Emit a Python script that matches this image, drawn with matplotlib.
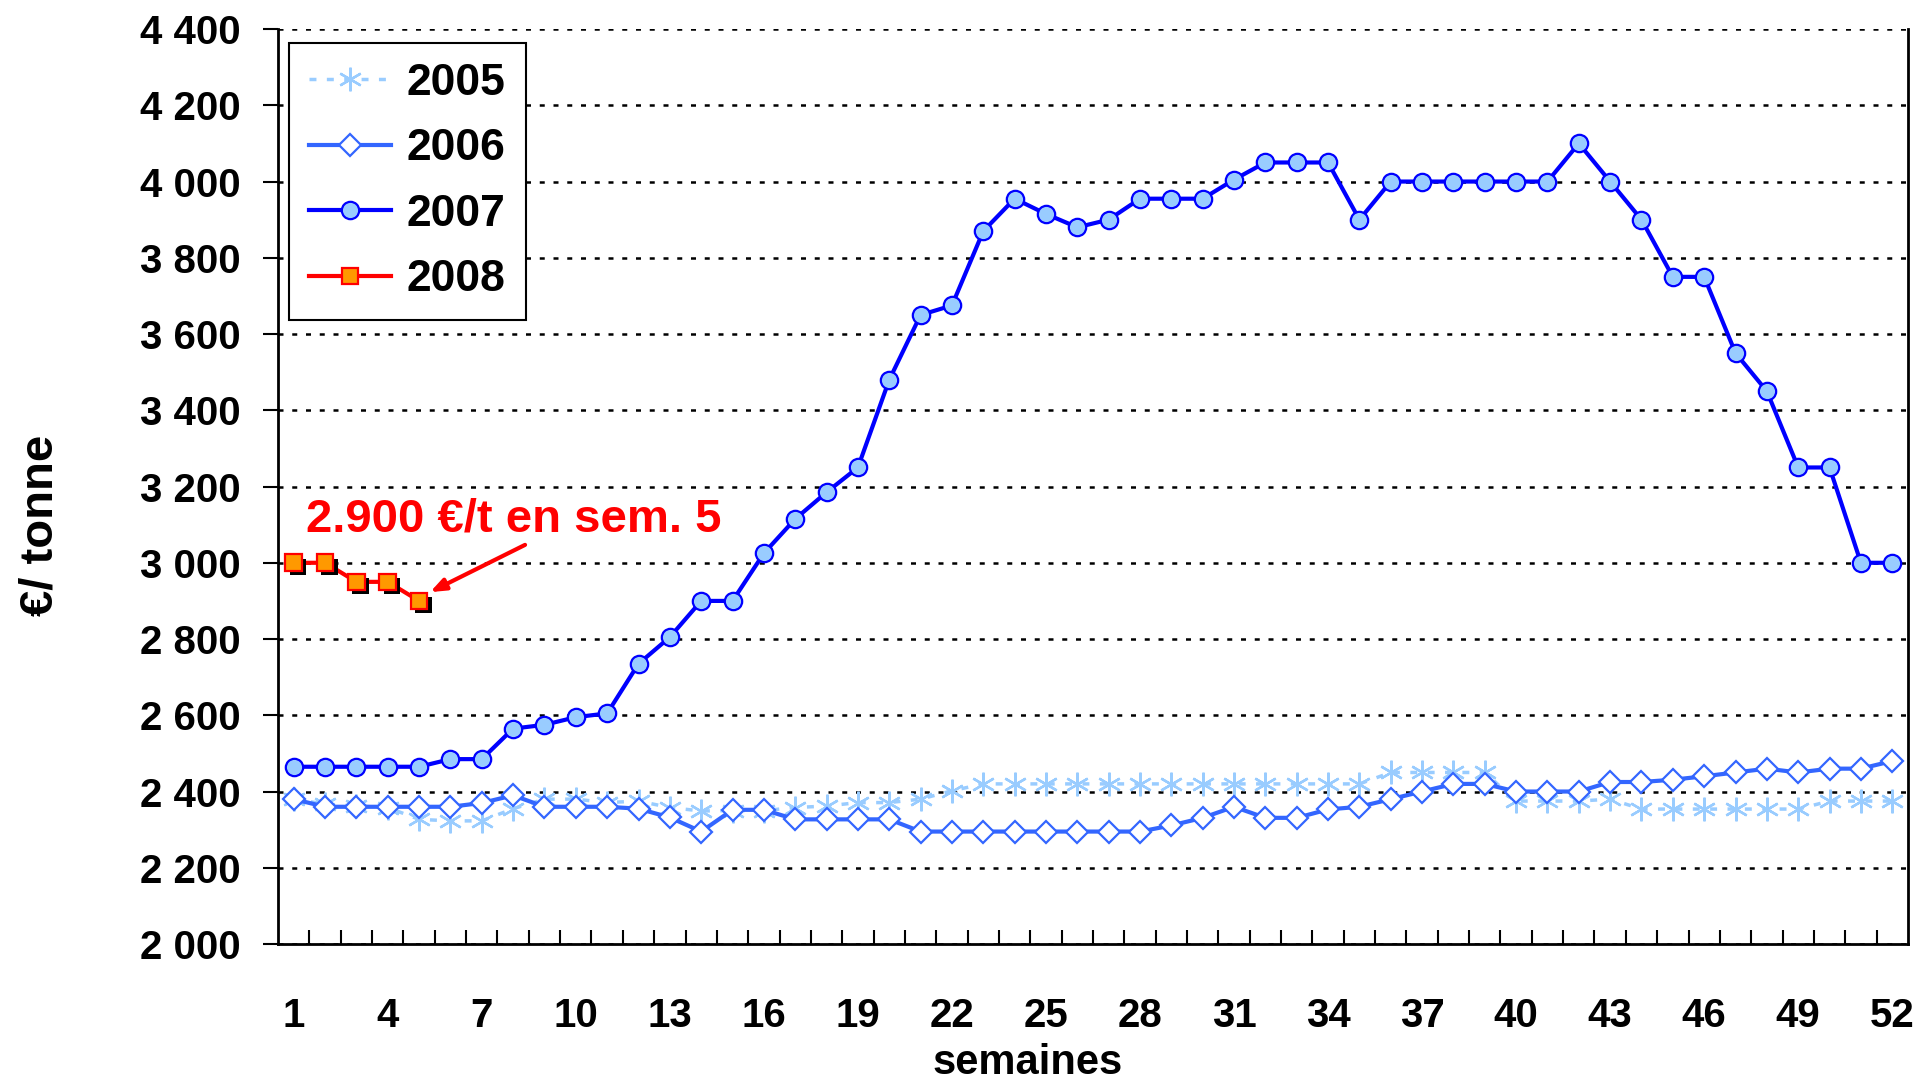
import matplotlib
matplotlib.use("Agg")
import matplotlib.pyplot as plt
import matplotlib.patheffects as pe
from matplotlib.ticker import FixedLocator, FixedFormatter

# ------------------------------------------------------------
# Data, EUR / tonne per week
# ------------------------------------------------------------
weeks = list(range(1, 53))

prix_2005 = [2380, 2367, 2362, 2358, 2327, 2323, 2323, 2355, 2380, 2380,
             2371, 2375, 2358, 2349, 2350, 2350, 2358, 2362, 2371, 2371,
             2380, 2402, 2420, 2420, 2420, 2420, 2420, 2420, 2420, 2420,
             2420, 2420, 2420, 2420, 2420, 2450, 2450, 2450, 2450, 2375,
             2375, 2375, 2380, 2354, 2354, 2354, 2354, 2354, 2354, 2375,
             2375, 2375]

prix_2006 = [2380, 2360, 2360, 2360, 2360, 2360, 2370, 2390, 2360, 2360,
             2360, 2355, 2332, 2295, 2352, 2352, 2327, 2327, 2327, 2327,
             2295, 2295, 2295, 2295, 2295, 2295, 2295, 2295, 2311, 2331,
             2360, 2331, 2331, 2353, 2360, 2380, 2400, 2420, 2420, 2400,
             2400, 2400, 2425, 2425, 2431, 2440, 2450, 2460, 2450, 2460,
             2460, 2480]

prix_2007 = [2465, 2465, 2465, 2465, 2465, 2485, 2485, 2565, 2575, 2595,
             2605, 2735, 2805, 2900, 2900, 3025, 3115, 3185, 3250, 3480,
             3650, 3675, 3870, 3955, 3915, 3880, 3900, 3955, 3955, 3955,
             4005, 4050, 4050, 4050, 3900, 4000, 4000, 4000, 4000, 4000,
             4000, 4100, 4000, 3900, 3750, 3750, 3550, 3450, 3250, 3250,
             3000, 3000]

weeks_2008 = [1, 2, 3, 4, 5]
prix_2008 = [3000, 3000, 2950, 2950, 2900]

y_ticks = list(range(2000, 4401, 200))
y_labels = [f"{v:,}".replace(",", " ") for v in y_ticks]
x_ticks = list(range(1, 53, 3))

FONT = "Liberation Sans"

plt.rcParams["font.family"] = [FONT, "DejaVu Sans"]
plt.rcParams["font.weight"] = "bold"

fig = plt.figure(figsize=(19.15, 10.8), dpi=100)
ax = fig.add_axes([0.1452, 0.1259, 0.8511, 0.8472])

# 2005: light blue dashed with asterisks
ax.plot(weeks, prix_2005, color="#99CCFF", lw=2.5, ls=(0, (2, 3)),
        marker=(6, 2, 0), ms=17, mew=1.7, mec="#99CCFF", label="2005",
        zorder=2)
# 2006: blue with open diamonds
ax.plot(weeks, prix_2006, color="#3366FF", lw=3, marker="D", ms=11,
        mfc="white", mec="#3366FF", mew=1.6, label="2006", zorder=3)
# 2007: dark blue with light blue circles
ax.plot(weeks, prix_2007, color="#0000FF", lw=3, marker="o", ms=12.5,
        mfc="#99CCFF", mec="#0000FF", mew=1.6, label="2007", zorder=4)
# 2008: red with orange squares (black drop shadow on markers)
ax.plot(weeks_2008, prix_2008, color="#FF0000", lw=3, zorder=5)
ax.plot(weeks_2008, prix_2008, ls="none", marker="s", ms=12,
        mfc="#FF9900", mec="#FF0000", mew=1.6, zorder=6,
        path_effects=[pe.SimplePatchShadow(offset=(3, -3),
                                           shadow_rgbFace="black", alpha=1),
                      pe.Normal()])
# legend proxy for 2008
ax.plot([], [], color="#FF0000", lw=3, marker="s", ms=12,
        mfc="#FF9900", mec="#FF0000", mew=1.6, label="2008")

ax.annotate("2.900 €/t en sem. 5", xy=(5.35, 2923), xytext=(1.39, 3083),
            color="#FF0000", fontsize=34, fontweight="bold",
            ha="left", va="baseline", zorder=7)
ax.annotate("", xy=(5.35, 2923), xytext=(8.38, 3047),
            arrowprops=dict(arrowstyle="-|>,head_length=0.9,head_width=0.35",
                            color="#FF0000", lw=3, shrinkA=0, shrinkB=0),
            zorder=7)

# axes / scales
ax.set_xlim(0.5, 52.5)
ax.set_ylim(2000, 4400)
ax.yaxis.set_major_locator(FixedLocator(y_ticks))
ax.yaxis.set_major_formatter(FixedFormatter(y_labels))
ax.xaxis.set_major_locator(FixedLocator(x_ticks))
ax.xaxis.set_minor_locator(FixedLocator([w + 0.5 for w in weeks[:-1]]))

ax.tick_params(axis="y", which="major", direction="out", length=11,
               width=1.5, pad=16, labelsize=29)
ax.tick_params(axis="x", which="major", length=0, pad=38, labelsize=29)
ax.tick_params(axis="x", which="minor", direction="in", length=10,
               width=1.5)
for lab in ax.get_xticklabels() + ax.get_yticklabels():
    lab.set_fontweight("bold")

ax.grid(axis="y", color="black", ls=(0, (2, 3.5)), lw=1.8, zorder=1)
ax.spines["top"].set_visible(False)
for side in ("left", "right", "bottom"):
    ax.spines[side].set_linewidth(2)
    ax.spines[side].set_color("black")

ax.set_xlabel("semaines", fontsize=30, fontweight="bold")
ax.xaxis.label.set_va("baseline")
ax.xaxis.set_label_coords(0.46, -0.142)
ax.set_ylabel("€/ tonne", fontsize=34, fontweight="bold")
ax.yaxis.label.set_va("center")
ax.yaxis.set_label_coords(-0.146, 0.458)

leg = ax.legend(loc="upper left", bbox_to_anchor=(0.0067, 0.985),
                fontsize=32, frameon=True, fancybox=False, framealpha=1,
                edgecolor="black", handlelength=1.85, labelspacing=0.55,
                borderpad=0.45, handletextpad=0.35, borderaxespad=0)
leg.get_frame().set_linewidth(1.5)
for t in leg.get_texts():
    t.set_fontweight("bold")

fig.savefig("out.png", dpi=100)
